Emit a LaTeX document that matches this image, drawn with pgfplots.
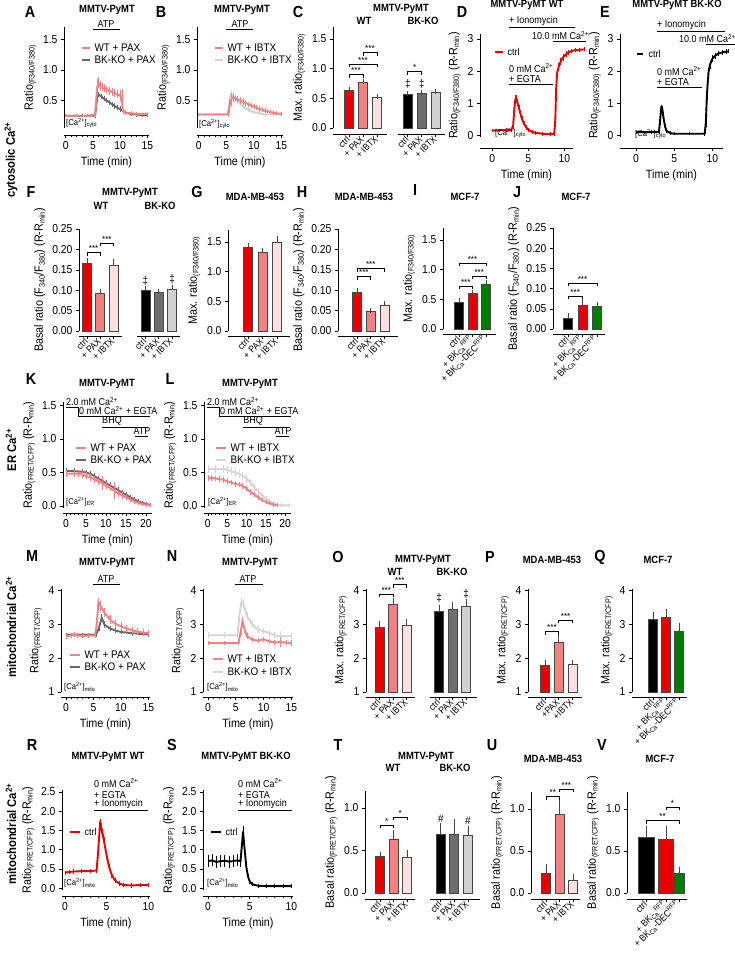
\documentclass[border=0pt]{standalone}
\usepackage{pgfplots}
\pgfplotsset{compat=1.18}
\usepackage{fontspec}
\setmainfont{Liberation Sans}[FakeStretch=0.9]
\setsansfont{Liberation Sans}[FakeStretch=0.9]

\definecolor{cred}{RGB}{232,0,0}
\definecolor{cpax}{RGB}{245,128,128}
\definecolor{cibtx}{RGB}{255,224,224}
\definecolor{cgray}{RGB}{110,110,110}
\definecolor{clgray}{RGB}{208,208,208}
\definecolor{cgreen}{RGB}{0,125,0}
\definecolor{tpink}{RGB}{246,128,128}
\definecolor{tgray}{RGB}{105,105,105}
\definecolor{tlgray}{RGB}{212,212,212}
\definecolor{edge}{RGB}{70,70,70}

\newcommand\ftick{\fontsize{11.5}{12}\selectfont}
\newcommand\flab{\fontsize{12}{13}\selectfont}
\newcommand\fxt{\fontsize{9.5}{10}\selectfont}
\newcommand\fhead{\bfseries\fontsize{10.5}{11}\selectfont}
\newcommand\fletter{\bfseries\fontsize{16}{17}\selectfont}
\newcommand\fleg{\fontsize{11}{12}\selectfont}
\newcommand\fann{\fontsize{10}{11}\selectfont}
\newcommand\fstar{\fontsize{9}{9}\selectfont}
\newcommand\fsub{\fontsize{8.5}{9}\selectfont}

\pgfplotsset{
  gp/.style={scale only axis, axis lines=left,
    axis line style={-, line width=0.7pt, black},
    tick style={black, line width=0.6pt}, tick align=outside,
    major tick length=3pt, minor tick length=1.8pt,
    tick label style={font=\ftick}, label style={font=\flab},
    /pgf/number format/assume math mode=true, clip=false,
    axis x line shift=#1, anchor=south west},
  gp/.default=6pt,
  tr/.style={gp=#1, xlabel={Time (min)}, minor x tick num=4},
  bx/.style={gp=#1, ybar, bar width=9pt, bar shift=0pt,
    xticklabel style={rotate=45, anchor=east, font=\fxt, inner sep=1pt}},
  p1/.style={yticklabel style={/pgf/number format/.cd, fixed, fixed zerofill, precision=1}},
  p2/.style={yticklabel style={/pgf/number format/.cd, fixed, fixed zerofill, precision=2}},
  tp/.style={line width=1.9pt, #1, mark=none,
    error bars/.cd, y dir=both, y explicit,
    error bar style={line width=0.5pt, #1},
    error mark=-, error mark options={#1, mark size=1.4pt, line width=0.5pt}},
  bb/.style={fill=#1, draw=edge, line width=0.6pt, bar shift=0pt,
    error bars/.cd, y dir=plus, y explicit,
    error bar style={line width=0.6pt, edge},
    error mark=-, error mark options={edge, mark size=2.5pt, line width=0.6pt}},
  shift1/.style={y coord trafo/.code={\pgfmathparse{##1-1}},
    y coord inv trafo/.code={\pgfmathparse{##1+1}}}
}

\newcommand\sig[4]{\draw[line width=0.6pt] ([yshift=-3pt]axis cs:#1,#3) -- (axis cs:#1,#3)
  -- node[above, inner sep=0.5pt, font=\fstar] {#4} (axis cs:#2,#3) -- ([yshift=-3pt]axis cs:#2,#3);}
\newcommand\seg[4]{\draw[line width=0.7pt] ([yshift=-#4]axis cs:#1,#3)
  -- ([yshift=-#4]axis cs:#2,#3);}
\newcommand\cacyto{[Ca\textsuperscript{2+}]\textsubscript{cyto}}
\newcommand\camito{[Ca\textsuperscript{2+}]\textsubscript{mito}}
\newcommand\caer{[Ca\textsuperscript{2+}]\textsubscript{ER}}
\newcommand\bkr{+ BK\textsubscript{Ca}\textsuperscript{RFP}}
\newcommand\bkd{+ BK\textsubscript{Ca}-DEC\textsuperscript{RFP}}

\begin{document}
\begin{tikzpicture}
\useasboundingbox (0,0) rectangle (735pt,-954pt);

% ---------------- A
\begin{axis}[tr=7pt, p1, at={(64pt,-128pt)}, width=85pt, height=101pt,
  xmin=-0.3, xmax=15.3, ymin=0.05, ymax=1.7, xtick={0,5,10,15}, ytick={0.5,1.0,1.5},
  ylabel={Ratio\textsubscript{(F340/F380)}}]
\addplot[tp=tgray] table[y error index=2] {
0 0.25 0.005
3 0.25 0.005
5.4 0.25 0.01
5.6 0.40 0.04
5.8 0.55 0.03
6.0 0.60 0.02
6.5 0.57 0.02
7.0 0.53 0.02
7.5 0.50 0.02
8.0 0.47 0.02
8.5 0.44 0.02
9.0 0.41 0.02
9.5 0.38 0.02
10.0 0.36 0.02
10.5 0.33 0.02
11 0.30 0.01
12 0.28 0.01
13 0.27 0.01
14 0.26 0.01
15 0.26 0.01
};
\addplot[tp=tpink] table[y error index=2] {
0 0.25 0.005
2 0.25 0.005
4 0.25 0.005
5.4 0.27 0.02
5.6 0.50 0.10
5.8 0.72 0.10
6.0 0.79 0.07
6.3 0.75 0.05
6.7 0.72 0.04
7.0 0.70 0.04
7.5 0.68 0.04
8.0 0.66 0.04
8.5 0.64 0.04
9.0 0.62 0.04
9.5 0.60 0.04
10.0 0.58 0.06
10.3 0.52 0.15
10.5 0.33 0.03
11 0.30 0.02
12 0.29 0.01
13 0.28 0.01
15 0.28 0.01
};
\end{axis}

% ---------------- B
\begin{axis}[tr=7pt, p1, at={(197pt,-128pt)}, width=86pt, height=101pt,
  xmin=-0.3, xmax=15.3, ymin=0.05, ymax=1.7, xtick={0,5,10,15}, ytick={0.5,1.0,1.5},
  ylabel={Ratio\textsubscript{(F340/F380)}}]
\addplot[tp=tlgray] table[y error index=2] {
0 0.27 0.005
5.3 0.28 0.01
5.6 0.50 0.06
5.9 0.60 0.05
6.2 0.58 0.04
6.6 0.53 0.03
7.0 0.49 0.03
7.5 0.45 0.02
8.0 0.41 0.02
8.5 0.38 0.02
9.0 0.35 0.02
9.5 0.33 0.02
10 0.31 0.01
11 0.29 0.01
12 0.27 0.01
15 0.27 0.01
};
\addplot[tp=tpink] table[y error index=2] {
0 0.27 0.005
5.3 0.27 0.01
5.6 0.40 0.08
5.9 0.52 0.08
6.2 0.55 0.05
6.6 0.54 0.03
7.0 0.52 0.03
7.5 0.50 0.03
8.0 0.48 0.03
8.5 0.46 0.03
9.0 0.44 0.02
9.5 0.42 0.02
10 0.40 0.02
10.5 0.38 0.02
11 0.36 0.02
11.5 0.35 0.02
12 0.33 0.02
12.5 0.32 0.01
13 0.31 0.01
13.5 0.30 0.01
14 0.29 0.01
15 0.28 0.01
};
\end{axis}

% ---------------- C
\begin{axis}[bx=6pt, p1, at={(333pt,-128pt)}, width=112pt, height=101pt,
  xmin=-1.14, xmax=6.86, ymin=0, ymax=1.7, ytick={0,0.5,1.0,1.5},
  x axis line style={draw=none},
  xtick={0,1,2,4.2,5.2,6.2}, xticklabels={ctrl,+ PAX,+ IBTX,ctrl,+ PAX,+ IBTX},
  ylabel={Max. ratio\textsubscript{(F340/F380)}}]
\addplot[bb=cred] coordinates {(0,0.64) +- (0,0.01)};
\addplot[bb=cpax] coordinates {(1,0.77) +- (0,0.015)};
\addplot[bb=cibtx] coordinates {(2,0.52) +- (0,0.01)};
\addplot[bb=black] coordinates {(4.2,0.573) +- (0,0.01)};
\addplot[bb=cgray] coordinates {(5.2,0.585) +- (0,0.015)};
\addplot[bb=clgray] coordinates {(6.2,0.595) +- (0,0.02)};
\sig{0}{1}{0.90}{***}
\sig{0}{2}{1.07}{***}
\sig{1}{2}{1.27}{***}
\sig{4.2}{5.2}{0.95}{*}
\node[font=\fleg] at (axis cs:4.2,0.74) {‡};
\node[font=\fleg] at (axis cs:5.2,0.74) {‡};
\seg{-1.14}{2.7}{0}{6pt}
\seg{3.5}{6.86}{0}{6pt}
\end{axis}

% ---------------- D
\begin{axis}[gp=11pt, at={(480pt,-137pt)}, width=93pt, height=103pt, xlabel={Time (min)},
  xmin=-1.7, xmax=11.2, ymin=-0.05, ymax=3.15, xtick={0,5,10}, ytick={0,1,2,3},
  ylabel={Ratio\textsubscript{(F340/F380)} (R-R\textsubscript{min})}]
\addplot[tp=cred] table[y error index=2] {
0 0.15 0.01
1 0.16 0.01
2 0.17 0.01
2.6 0.16 0.01
2.9 0.30 0.05
3.05 0.80 0.10
3.2 1.12 0.08
3.35 1.13 0.08
3.5 1.02 0.07
3.7 0.85 0.06
3.9 0.68 0.05
4.1 0.52 0.05
4.4 0.36 0.04
4.7 0.25 0.03
5.0 0.18 0.02
5.5 0.11 0.02
6 0.08 0.01
7 0.05 0.01
8 0.04 0.01
8.6 0.05 0.01
8.75 0.50 0.10
8.85 1.40 0.15
9.0 1.95 0.10
9.2 2.12 0.08
9.5 2.30 0.07
9.8 2.42 0.06
10.2 2.52 0.05
10.6 2.58 0.04
11 2.62 0.03
11.5 2.65 0.03
12 2.66 0.02
12.7 2.67 0.02
};
\end{axis}

% ---------------- E
\begin{axis}[gp=11pt, at={(620pt,-137pt)}, width=103pt, height=103pt, xlabel={Time (min)},
  xmin=-2.1, xmax=11.4, ymin=-0.05, ymax=3.15, xtick={0,5,10}, ytick={0,1,2,3},
  ylabel={Ratio\textsubscript{(F340/F380)} (R-R\textsubscript{min})}]
\addplot[tp=black] table[y error index=2] {
0 0.10 0.005
2 0.10 0.005
3.0 0.10 0.01
3.15 0.45 0.08
3.3 0.85 0.06
3.45 0.82 0.06
3.6 0.55 0.05
3.8 0.28 0.04
4.0 0.14 0.02
4.5 0.07 0.01
5 0.05 0.005
7 0.05 0.005
9.0 0.05 0.01
9.15 0.40 0.10
9.3 1.30 0.15
9.5 1.95 0.10
9.7 2.20 0.08
10.0 2.38 0.06
10.4 2.48 0.05
10.8 2.54 0.04
11.3 2.58 0.03
11.8 2.60 0.03
12.1 2.61 0.02
};
\end{axis}

% ---------------- F
\begin{axis}[bx=5pt, p2, at={(79pt,-331pt)}, width=101pt, height=102pt,
  xmin=-0.6, xmax=7.0, ymin=0, ymax=0.25, ytick={0,0.05,0.10,0.15,0.20,0.25},
  x axis line style={draw=none},
  xtick={0,1,2,4.4,5.4,6.4}, xticklabels={ctrl,+ PAX,+ IBTX,ctrl,+ PAX,+ IBTX},
  ylabel={Basal ratio (F\textsubscript{340}/F\textsubscript{380}) (R-R\textsubscript{min})}]
\addplot[bb=cred] coordinates {(0,0.165) +- (0,0.008)};
\addplot[bb=cpax] coordinates {(1,0.093) +- (0,0.005)};
\addplot[bb=cibtx] coordinates {(2,0.162) +- (0,0.009)};
\addplot[bb=black] coordinates {(4.4,0.099) +- (0,0.004)};
\addplot[bb=cgray] coordinates {(5.4,0.095) +- (0,0.003)};
\addplot[bb=clgray] coordinates {(6.4,0.103) +- (0,0.004)};
\sig{0}{1}{0.192}{***}
\sig{1}{2}{0.215}{***}
\node[font=\fleg] at (axis cs:4.4,0.124) {‡};
\node[font=\fleg] at (axis cs:6.4,0.127) {‡};
\seg{-0.6}{2.6}{0}{5pt}
\seg{3.8}{7.0}{0}{5pt}
\end{axis}

% ---------------- G
\begin{axis}[bx=5pt, p1, at={(228pt,-331pt)}, width=62pt, height=101pt,
  xmin=-1.4, xmax=2.9, ymin=0, ymax=1.7, ytick={0,0.5,1.0,1.5},
  xtick={0,1,2}, xticklabels={ctrl,+ PAX,+ IBTX},
  ylabel={Max. ratio\textsubscript{(F340/F380)}}]
\addplot[bb=cred] coordinates {(0,1.41) +- (0,0.03)};
\addplot[bb=cpax] coordinates {(1,1.32) +- (0,0.03)};
\addplot[bb=cibtx] coordinates {(2,1.49) +- (0,0.06)};
\end{axis}

% ---------------- H
\begin{axis}[bx=5pt, p2, at={(338pt,-331pt)}, width=60pt, height=102pt,
  xmin=-1.4, xmax=3.0, ymin=0, ymax=0.25, ytick={0,0.05,0.10,0.15,0.20,0.25},
  xtick={0,1,2}, xticklabels={ctrl,+ PAX,+ IBTX},
  ylabel={Basal ratio (F\textsubscript{340}/F\textsubscript{380}) (R-R\textsubscript{min})}]
\addplot[bb=cred] coordinates {(0,0.096) +- (0,0.004)};
\addplot[bb=cpax] coordinates {(1,0.048) +- (0,0.003)};
\addplot[bb=cibtx] coordinates {(2,0.063) +- (0,0.004)};
\sig{0}{1}{0.133}{***}
\sig{0}{2}{0.153}{***}
\end{axis}

% ---------------- I
\begin{axis}[bx=5pt, p1, at={(443pt,-329pt)}, width=53pt, height=101pt,
  xmin=-1.2, xmax=2.75, ymin=0, ymax=1.7, ytick={0,0.5,1.0,1.5},
  xtick={0,1,2}, xticklabels={ctrl,\bkr,\bkd},
  ylabel={Max. ratio\textsubscript{(F340/F380)}}]
\addplot[bb=black] coordinates {(0,0.455) +- (0,0.02)};
\addplot[bb=cred] coordinates {(1,0.594) +- (0,0.02)};
\addplot[bb=cgreen] coordinates {(2,0.76) +- (0,0.02)};
\sig{0}{1}{0.72}{***}
\sig{1}{2}{0.89}{***}
\sig{0}{2}{1.11}{***}
\end{axis}

% ---------------- J
\begin{axis}[bx=5pt, p2, at={(553pt,-329pt)}, width=52pt, height=101pt,
  xmin=-1.03, xmax=2.55, ymin=0, ymax=0.25, ytick={0,0.05,0.10,0.15,0.20,0.25},
  xtick={0,1,2}, xticklabels={ctrl,\bkr,\bkd},
  ylabel={Basal ratio (F\textsubscript{340}/F\textsubscript{380}) (R-R\textsubscript{min})}]
\addplot[bb=black] coordinates {(0,0.0275) +- (0,0.005)};
\addplot[bb=cred] coordinates {(1,0.059) +- (0,0.008)};
\addplot[bb=cgreen] coordinates {(2,0.055) +- (0,0.005)};
\sig{0}{1}{0.082}{***}
\sig{0}{2}{0.113}{***}
\end{axis}

% ---------------- K
\begin{axis}[tr=5pt, p1, at={(63pt,-508pt)}, width=89pt, height=106pt,
  xmin=-0.75, xmax=21.5, ymin=-0.03, ymax=1.55, xtick={0,5,10,15,20}, ytick={0,0.5,1.0,1.5},
  ylabel={Ratio\textsubscript{(FRET/CFP)} (R-R\textsubscript{min})}]
\addplot[tp=tgray] table[y error index=2] {
0 0.52 0.02
2 0.52 0.02
4 0.51 0.02
5 0.50 0.02
6 0.48 0.02
7 0.45 0.02
8 0.41 0.02
9 0.38 0.02
10 0.34 0.02
11 0.31 0.02
12 0.27 0.02
13 0.24 0.02
14 0.20 0.02
15 0.17 0.02
16 0.13 0.02
17 0.10 0.02
18 0.07 0.01
19 0.05 0.01
20 0.03 0.01
21 0.02 0.01
};
\addplot[tp=tpink] table[y error index=2] {
0 0.48 0.03
2 0.48 0.03
3 0.48 0.03
4 0.47 0.03
5 0.45 0.03
6 0.43 0.03
7 0.40 0.03
8 0.37 0.03
9 0.34 0.08
10 0.30 0.03
11 0.27 0.03
12 0.23 0.10
13 0.19 0.03
14 0.16 0.03
15 0.13 0.02
16 0.10 0.02
17 0.07 0.02
18 0.05 0.01
19 0.03 0.01
20 0.02 0.01
21 0.01 0.01
};
\end{axis}

% ---------------- L
\begin{axis}[tr=5pt, p1, at={(204pt,-508pt)}, width=87pt, height=106pt,
  xmin=-1, xmax=21.5, ymin=-0.03, ymax=1.55, xtick={0,5,10,15,20}, ytick={0,0.5,1.0,1.5},
  ylabel={Ratio\textsubscript{(FRET/CFP)} (R-R\textsubscript{min})}]
\addplot[tp=tlgray] table[y error index=2] {
0 0.55 0.04
2 0.55 0.04
4 0.55 0.04
5 0.54 0.04
6 0.52 0.04
7 0.50 0.04
8 0.48 0.04
9 0.45 0.04
10 0.41 0.04
11 0.35 0.03
12 0.28 0.03
13 0.22 0.03
14 0.16 0.02
15 0.11 0.02
16 0.07 0.02
17 0.04 0.01
18 0.02 0.01
19 0.01 0.01
21 0.01 0.01
};
\addplot[tp=tpink] table[y error index=2] {
0 0.42 0.02
1 0.42 0.02
2 0.41 0.02
3 0.40 0.02
4 0.39 0.02
5 0.37 0.02
6 0.35 0.02
7 0.33 0.02
8 0.32 0.02
9 0.30 0.02
10 0.26 0.02
11 0.21 0.02
12 0.17 0.02
13 0.13 0.02
14 0.09 0.01
15 0.06 0.01
16 0.04 0.01
17 0.02 0.01
18 0.01 0.01
};
\end{axis}

% ---------------- M
\begin{axis}[tr=5pt, at={(61pt,-692pt)}, width=89pt, height=103pt,
  xmin=-0.9, xmax=15.3, ymin=1, ymax=4.05, xtick={0,5,10,15}, ytick={1,2,3,4},
  ylabel={Ratio\textsubscript{(FRET/CFP)}}]
\addplot[tp=tgray] table[y error index=2] {
0 2.70 0.02
3 2.70 0.02
5.5 2.70 0.03
6.0 2.90 0.05
6.5 3.20 0.06
7.0 3.00 0.05
8.0 2.88 0.04
9.0 2.82 0.03
10 2.78 0.03
12 2.74 0.03
15 2.70 0.02
};
\addplot[tp=tpink] table[y error index=2] {
0 2.65 0.03
1 2.68 0.04
1.5 2.70 0.04
2 2.68 0.03
3 2.66 0.03
4 2.67 0.03
5.3 2.68 0.04
5.6 3.00 0.10
5.9 3.65 0.10
6.3 3.55 0.10
7.0 3.35 0.09
8.0 3.15 0.09
9.0 3.02 0.08
10 2.95 0.08
11 2.88 0.07
12 2.83 0.06
13 2.79 0.05
14 2.76 0.05
15 2.74 0.05
};
\end{axis}

% ---------------- N
\begin{axis}[tr=5pt, at={(203pt,-692pt)}, width=90pt, height=103pt,
  xmin=-0.9, xmax=15.3, ymin=1, ymax=4.05, xtick={0,5,10,15}, ytick={1,2,3,4},
  ylabel={Ratio\textsubscript{(FRET/CFP)}}]
\addplot[tp=tlgray] table[y error index=2] {
0 2.68 0.05
3 2.68 0.05
5.3 2.68 0.05
5.6 3.20 0.10
6.0 3.65 0.08
6.4 3.60 0.08
7.0 3.25 0.07
8.0 3.00 0.06
9.0 2.85 0.05
10 2.80 0.05
11 2.75 0.05
12 2.68 0.05
13 2.65 0.12
15 2.65 0.05
};
\addplot[tp=tpink] table[y error index=2] {
0 2.45 0.03
3 2.45 0.03
5.5 2.45 0.03
5.9 2.80 0.08
6.2 3.10 0.08
6.6 2.85 0.06
7.0 2.65 0.05
8.0 2.55 0.04
9.0 2.52 0.04
10 2.56 0.04
11 2.50 0.04
12 2.47 0.04
13 2.48 0.10
14 2.46 0.04
15 2.45 0.04
};
\end{axis}

% ---------------- O
\begin{axis}[bx=5pt, shift1, at={(366pt,-692pt)}, width=111pt, height=103pt,
  xmin=-1.0, xmax=7.2, ymin=1, ymax=4.05, ytick={1,2,3,4},
  x axis line style={draw=none},
  xtick={0,1,2,4.4,5.4,6.4}, xticklabels={ctrl,+ PAX,+ IBTX,ctrl,+ PAX,+ IBTX},
  ylabel={Max. ratio\textsubscript{(FRET/CFP)}}]
\addplot[bb=cred] coordinates {(0,2.93) +- (0,0.11)};
\addplot[bb=cpax] coordinates {(1,3.59) +- (0,0.13)};
\addplot[bb=cibtx] coordinates {(2,2.98) +- (0,0.10)};
\addplot[bb=black] coordinates {(4.4,3.39) +- (0,0.12)};
\addplot[bb=cgray] coordinates {(5.4,3.44) +- (0,0.14)};
\addplot[bb=clgray] coordinates {(6.4,3.54) +- (0,0.15)};
\sig{0}{1}{3.89}{***}
\sig{1}{2}{4.18}{***}
\node[font=\fleg] at (axis cs:4.4,3.80) {‡};
\node[font=\fleg] at (axis cs:6.4,3.92) {‡};
\seg{-1.0}{2.6}{1}{5pt}
\seg{3.7}{7.2}{1}{5pt}
\end{axis}

% ---------------- P
\begin{axis}[bx=5pt, shift1, at={(528pt,-692pt)}, width=54pt, height=103pt,
  xmin=-1.25, xmax=2.7, ymin=1, ymax=4.05, ytick={1,2,3,4},
  xtick={0,1,2}, xticklabels={ctrl,+PAX,+IBTX},
  ylabel={Max. ratio\textsubscript{(FRET/CFP)}}]
\addplot[bb=cred] coordinates {(0,1.80) +- (0,0.08)};
\addplot[bb=cpax] coordinates {(1,2.48) +- (0,0.12)};
\addplot[bb=cibtx] coordinates {(2,1.83) +- (0,0.05)};
\sig{0}{1}{2.79}{***}
\sig{1}{2}{3.12}{***}
\end{axis}

% ---------------- Q
\begin{axis}[bx=5pt, shift1, at={(632pt,-692pt)}, width=55pt, height=103pt,
  xmin=-1.6, xmax=2.6, ymin=1, ymax=4.05, ytick={1,2,3,4},
  xtick={0,1,2}, xticklabels={ctrl,\bkr,\bkd},
  ylabel={Max. ratio\textsubscript{(FRET/CFP)}}]
\addplot[bb=black] coordinates {(0,3.14) +- (0,0.15)};
\addplot[bb=cred] coordinates {(1,3.22) +- (0,0.15)};
\addplot[bb=cgreen] coordinates {(2,2.79) +- (0,0.17)};
\end{axis}

% ---------------- R
\begin{axis}[tr=6pt, p1, at={(62pt,-890pt)}, width=88pt, height=100pt,
  xmin=-0.35, xmax=10.2, ymin=-0.05, ymax=2.55, xtick={0,5,10},
  ytick={0,0.5,1.0,1.5,2.0,2.5},
  ylabel={Ratio\textsubscript{(FRET/CFP)} (R-R\textsubscript{min})}]
\addplot[tp=cred] table[y error index=2] {
0 0.40 0.02
0.5 0.42 0.02
1 0.43 0.02
2 0.44 0.02
3 0.44 0.02
3.8 0.46 0.03
4.0 1.00 0.10
4.2 1.65 0.12
4.4 1.55 0.10
4.7 1.20 0.08
5.0 0.85 0.06
5.3 0.55 0.05
5.6 0.35 0.04
6.0 0.20 0.03
6.5 0.12 0.02
7.0 0.08 0.02
8.0 0.07 0.02
9.0 0.08 0.02
10 0.08 0.02
};
\end{axis}

% ---------------- S
\begin{axis}[tr=6pt, p1, at={(203pt,-890pt)}, width=90pt, height=100pt,
  xmin=-0.6, xmax=10.2, ymin=-0.05, ymax=2.55, xtick={0,5,10},
  ytick={0,0.5,1.0,1.5,2.0,2.5},
  ylabel={Ratio\textsubscript{(FRET/CFP)} (R-R\textsubscript{min})}]
\addplot[tp=black] table[y error index=2] {
0 0.70 0.12
0.5 0.72 0.12
1 0.68 0.12
1.5 0.70 0.12
2 0.71 0.12
2.5 0.69 0.12
3 0.70 0.12
3.5 0.72 0.12
3.9 0.70 0.12
4.1 1.20 0.10
4.2 1.47 0.12
4.4 1.00 0.08
4.6 0.55 0.05
4.8 0.30 0.04
5.0 0.18 0.03
5.3 0.10 0.02
6 0.06 0.02
7 0.05 0.02
8 0.05 0.02
9 0.05 0.02
10 0.05 0.02
};
\end{axis}

% ---------------- T
\begin{axis}[bx=6pt, p1, at={(365pt,-893pt)}, width=115pt, height=102pt,
  xmin=-1.1, xmax=7.4, ymin=0, ymax=1.2, ytick={0,0.5,1.0},
  x axis line style={draw=none},
  xtick={0,1,2,4.5,5.5,6.5}, xticklabels={ctrl,+ PAX,+ IBTX,ctrl,+ PAX,+ IBTX},
  ylabel={Basal ratio\textsubscript{(FRET/CFP)} (R-R\textsubscript{min})}]
\addplot[bb=cred] coordinates {(0,0.427) +- (0,0.03)};
\addplot[bb=cpax] coordinates {(1,0.632) +- (0,0.078)};
\addplot[bb=cibtx] coordinates {(2,0.42) +- (0,0.058)};
\addplot[bb=black] coordinates {(4.5,0.69) +- (0,0.11)};
\addplot[bb=cgray] coordinates {(5.5,0.69) +- (0,0.15)};
\addplot[bb=clgray] coordinates {(6.5,0.676) +- (0,0.084)};
\sig{0}{1}{0.80}{*}
\sig{1}{2}{0.89}{*}
\node[font=\fleg] at (axis cs:4.5,0.87) {\#};
\node[font=\fleg] at (axis cs:6.5,0.85) {\#};
\seg{-1.1}{2.6}{0}{6pt}
\seg{3.7}{7.4}{0}{6pt}
\end{axis}

% ---------------- U
\begin{axis}[bx=6pt, p1, at={(531pt,-893pt)}, width=49pt, height=101pt,
  xmin=-1.1, xmax=2.5, ymin=0, ymax=1.2, ytick={0,0.5,1.0},
  xtick={0,1,2}, xticklabels={ctrl,+ PAX,+ IBTX},
  ylabel={Basal ratio\textsubscript{(FRET/CFP)} (R-R\textsubscript{min})}]
\addplot[bb=cred] coordinates {(0,0.237) +- (0,0.08)};
\addplot[bb=cpax] coordinates {(1,0.94) +- (0,0.13)};
\addplot[bb=cibtx] coordinates {(2,0.15) +- (0,0.05)};
\sig{0}{1}{1.146}{**}
\sig{1}{2}{1.237}{***}
\end{axis}

% ---------------- V
\begin{axis}[bx=6pt, p1, at={(627pt,-893pt)}, width=60pt, height=101pt,
  xmin=-1.19, xmax=2.56, ymin=0, ymax=1.2, ytick={0,0.5,1.0},
  xtick={0,1.25,2.06}, xticklabels={ctrl,\bkr,\bkd},
  ylabel={Basal ratio\textsubscript{(FRET/CFP)} (R-R\textsubscript{min})}]
\addplot[bar width=16pt, bb=black] coordinates {(0,0.656) +- (0,0.114)};
\addplot[bar width=15pt, bb=cred] coordinates {(1.25,0.633) +- (0,0.137)};
\addplot[bar width=10pt, bb=cgreen] coordinates {(2.06,0.23) +- (0,0.047)};
\sig{0}{2.06}{0.86}{**}
\sig{1.25}{2.06}{1.02}{*}
\end{axis}

% ================= annotations (1 unit = 1 px of the reference, y downwards)
\begin{scope}[x=1pt, y=-1pt]
% panel letters
\foreach \l/\xx/\yy in {A/30/12, B/161/12, C/298/12, D/462/12, E/605/12,
  F/31/192, G/197/192, H/302/192, I/415/190, J/517/192,
  K/31/379, L/170/379, M/32/556, N/172/556, O/338/557, P/490/557, Q/600/557,
  R/32/745, S/172/745, T/338/745, U/492/745, V/602/745}
  \node[font=\fletter] at (\xx,\yy) {\l};
% titles
\foreach \t/\xx/\yy in {MMTV-PyMT/107/10, MMTV-PyMT/242/10, MMTV-PyMT/401/9,
  MMTV-PyMT WT/527/5, MMTV-PyMT BK-KO/677/5,
  MMTV-PyMT/130/193, MDA-MB-453/255/197, MDA-MB-453/364/197, MCF-7/465/197, MCF-7/576/197,
  MMTV-PyMT/107/384, MMTV-PyMT/250/384,
  MMTV-PyMT/107/563, MMTV-PyMT/250/563, MMTV-PyMT/423/560, MDA-MB-453/552/560, MCF-7/658/560,
  MMTV-PyMT WT/108/757, MMTV-PyMT BK-KO/246/757, MMTV-PyMT/426/757, MDA-MB-453/553/759, MCF-7/660/759}
  \node[font=\fhead] at (\xx,\yy) {\t};
\foreach \t/\xx/\yy in {WT/364/21, BK-KO/423/21, WT/101/206, BK-KO/160/206,
  WT/395/572, BK-KO/452/572, WT/393/768, BK-KO/455/768}
  \node[font=\fhead] at (\xx,\yy) {\t};
% row labels
\node[font=\bfseries\fontsize{12.5}{13}\selectfont, rotate=90] at (11,160) {cytosolic Ca\textsuperscript{2+}};
\node[font=\bfseries\fontsize{12.5}{13}\selectfont, rotate=90] at (11,450) {ER Ca\textsuperscript{2+}};
\node[font=\bfseries\fontsize{12.5}{13}\selectfont, rotate=90] at (11,627) {mitochondrial Ca\textsuperscript{2+}};
\node[font=\bfseries\fontsize{12.5}{13}\selectfont, rotate=90] at (11,834) {mitochondrial Ca\textsuperscript{2+}};

% A, B
\node[font=\fann, anchor=south, inner sep=1pt] at (106,29) {ATP}; \draw[line width=0.7pt] (93,29.5) -- (120,29.5);
\node[font=\fann, anchor=south, inner sep=1pt] at (240,29) {ATP}; \draw[line width=0.7pt] (226,29.5) -- (253,29.5);
\draw[tpink, line width=2pt] (82,48) -- (90,48); \node[font=\fleg, anchor=west] at (91,48) {WT + PAX};
\draw[tgray, line width=2pt] (82,60) -- (90,60); \node[font=\fleg, anchor=west] at (91,60) {BK-KO + PAX};
\draw[tpink, line width=2pt] (215,48) -- (223,48); \node[font=\fleg, anchor=west] at (224,48) {WT + IBTX};
\draw[tlgray, line width=2pt] (215,60) -- (223,60); \node[font=\fleg, anchor=west] at (224,60) {BK-KO + IBTX};
\node[font=\fsub, anchor=west, inner sep=1pt] at (65,123) {\cacyto};
\node[font=\fsub, anchor=west, inner sep=1pt] at (198,124) {\cacyto};
% D
\node[font=\fann, anchor=south west, inner sep=1pt] at (508,27) {+ Ionomycin}; \draw[line width=0.7pt] (509,27) -- (575,27);
\node[font=\fann, anchor=south east, inner sep=1pt] at (590,41) {10.0 mM Ca\textsuperscript{2+}}; \draw[line width=0.7pt] (553,41) -- (586,41);
\draw[cred, line width=2pt] (495,52) -- (503,52); \node[font=\fann, anchor=west] at (504,52) {ctrl};
\node[font=\fann, anchor=west, inner sep=1pt] at (508,68) {0 mM Ca\textsuperscript{2+}};
\node[font=\fann, anchor=south west, inner sep=1pt] at (508,84) {+ EGTA}; \draw[line width=0.7pt] (509,84) -- (553,84);
\node[font=\fsub, anchor=west, inner sep=1pt] at (494,133) {\cacyto};
% E
\node[font=\fann, anchor=south west, inner sep=1pt] at (656,31) {+ Ionomycin}; \draw[line width=0.7pt] (657,31) -- (725,31);
\node[font=\fann, anchor=south east, inner sep=1pt] at (737,44) {10.0 mM Ca\textsuperscript{2+}}; \draw[line width=0.7pt] (706,44) -- (735,44);
\draw[black, line width=2pt] (637,54) -- (643,54); \node[font=\fann, anchor=west] at (645,54) {ctrl};
\node[font=\fann, anchor=west, inner sep=1pt] at (656,71) {0 mM Ca\textsuperscript{2+}};
\node[font=\fann, anchor=south west, inner sep=1pt] at (656,87) {+ EGTA}; \draw[line width=0.7pt] (657,87) -- (702,87);
\node[font=\fsub, anchor=west, inner sep=1pt] at (634,134) {\cacyto};
% K, L
\foreach \dx in {0,141} {
  \node[font=\fann, anchor=south west, inner sep=1pt] at (65+\dx,407) {2.0 mM Ca\textsuperscript{2+}};
  \draw[line width=0.7pt] (66+\dx,407) -- (78+\dx,407) -- (78+\dx,416) -- (150+\dx,416);
  \node[font=\fann, anchor=south west, inner sep=1pt] at (78+\dx,416) {0 mM Ca\textsuperscript{2+} + EGTA};
  \node[font=\fann, anchor=south, inner sep=1pt] at (112+\dx,427) {BHQ}; \draw[line width=0.7pt] (102+\dx,427) -- (148+\dx,427);
  \node[font=\fann, anchor=south, inner sep=1pt] at (142+\dx,436) {ATP}; \draw[line width=0.7pt] (135+\dx,436) -- (148+\dx,436);
}
\draw[tpink, line width=2pt] (76,448) -- (86,448); \node[font=\fleg, anchor=west] at (87,448) {WT + PAX};
\draw[tgray, line width=2pt] (76,460) -- (86,460); \node[font=\fleg, anchor=west] at (87,460) {BK-KO + PAX};
\draw[tpink, line width=2pt] (216,448) -- (226,448); \node[font=\fleg, anchor=west] at (227,448) {WT + IBTX};
\draw[tlgray, line width=2pt] (216,460) -- (226,460); \node[font=\fleg, anchor=west] at (227,460) {BK-KO + IBTX};
\node[font=\fsub, anchor=west, inner sep=1pt] at (65,502) {\caer};
\node[font=\fsub, anchor=west, inner sep=1pt] at (207,502) {\caer};
% M, N
\node[font=\fann, anchor=south, inner sep=1pt] at (106,584) {ATP}; \draw[line width=0.7pt] (93,584.5) -- (120,584.5);
\node[font=\fann, anchor=south, inner sep=1pt] at (248,584) {ATP}; \draw[line width=0.7pt] (235,584.5) -- (263,584.5);
\draw[tpink, line width=2pt] (70,655) -- (80,655); \node[font=\fleg, anchor=west] at (81,655) {WT + PAX};
\draw[tgray, line width=2pt] (70,667) -- (80,667); \node[font=\fleg, anchor=west] at (81,667) {BK-KO + PAX};
\draw[tpink, line width=2pt] (213,659) -- (223,659); \node[font=\fleg, anchor=west] at (224,659) {WT + IBTX};
\draw[tlgray, line width=2pt] (213,672) -- (223,672); \node[font=\fleg, anchor=west] at (224,672) {BK-KO + IBTX};
\node[font=\fsub, anchor=west, inner sep=1pt] at (63,687) {\camito};
\node[font=\fsub, anchor=west, inner sep=1pt] at (206,687) {\camito};
% R, S
\foreach \dx in {0,144} {
  \node[font=\fann, anchor=west, inner sep=1pt] at (93+\dx,783) {0 mM Ca\textsuperscript{2+}};
  \node[font=\fann, anchor=west, inner sep=1pt] at (93+\dx,795) {+ EGTA};
  \node[font=\fann, anchor=south west, inner sep=1pt] at (93+\dx,810) {+ Ionomycin};
  \draw[line width=0.7pt] (94+\dx,810) -- (148+\dx,810);
}
\draw[cred, line width=2pt] (70,832) -- (80,832); \node[font=\fann, anchor=west] at (81,832) {ctrl};
\draw[black, line width=2pt] (211,832) -- (221,832); \node[font=\fann, anchor=west] at (222,832) {ctrl};
\node[font=\fsub, anchor=west, inner sep=1pt] at (63,883) {\camito};
\node[font=\fsub, anchor=west, inner sep=1pt] at (206,883) {\camito};
\end{scope}
\end{tikzpicture}
\end{document}
